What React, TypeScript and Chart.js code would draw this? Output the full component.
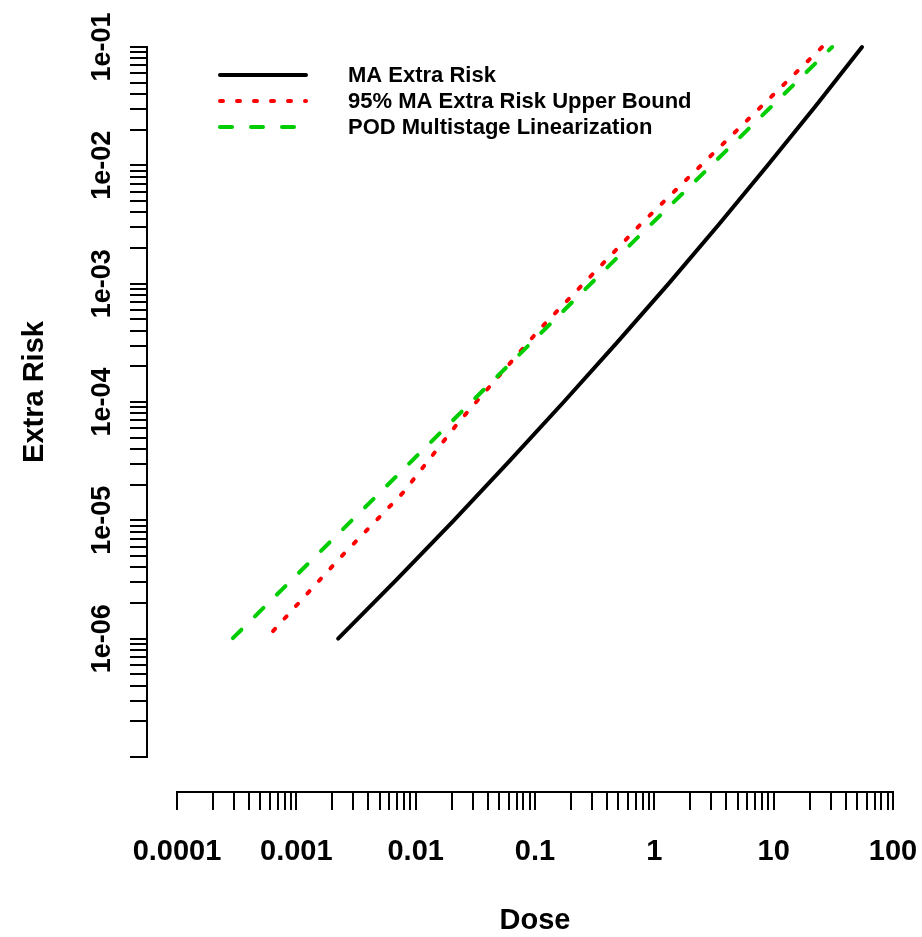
import React, { useEffect, useRef } from "react";
import { Chart, registerables } from "chart.js";

Chart.register(...registerables);

// ---- Data ----
const maDose = [0.00224, 0.00692, 0.0209, 0.061, 0.174, 0.484, 1.318, 3.47, 8.91, 22.4, 55];
const maRisk = [1e-6, 3.16e-6, 1e-5, 3.16e-5, 1e-4, 3.16e-4, 1e-3, 3.16e-3, 1e-2, 3.16e-2, 0.1];

const ubDose = [6.38e-4, 2.32e-3, 7.83e-3, 0.0226, 0.108, 0.791, 3.92, 25.5];
const ubRisk = [1.16e-6, 4.81e-6, 1.71e-5, 6.65e-5, 4.06e-4, 3.27e-3, 0.0158, 0.1];

const podDose = [2.94e-4, 0.017, 0.627, 30.9];
const podRisk = [1.01e-6, 5.81e-5, 2.13e-3, 0.1];

const seriesLabels = [
  "MA Extra Risk",
  "95% MA Extra Risk Upper Bound",
  "POD Multistage Linearization",
];

// ---- Axis ticks ----
const xDecades = [1e-4, 1e-3, 1e-2, 1e-1, 1, 10, 100];
const xTickLabels = ["0.0001", "0.001", "0.01", "0.1", "1", "10", "100"];
const yDecades = [1e-7, 1e-6, 1e-5, 1e-4, 1e-3, 1e-2, 1e-1];
const yTickLabels = ["", "1e-06", "1e-05", "1e-04", "1e-03", "1e-02", "1e-01"];
const minorMultipliers = [2, 3, 4, 5, 6, 7, 8, 9];

const xTitle = "Dose";
const yTitle = "Extra Risk";

const FONT = '"Liberation Sans", Arial, Helvetica, sans-serif';

const rAxesPlugin = {
  id: "rAxes",
  afterDraw(chart: any) {
    const ctx = chart.ctx as CanvasRenderingContext2D;
    const xs = chart.scales.x;
    const ys = chart.scales.y;
    const area = chart.chartArea;
    ctx.save();
    ctx.strokeStyle = "#000";
    ctx.fillStyle = "#000";
    ctx.lineWidth = 2;
    ctx.lineCap = "butt";

    // ---- Y axis (detached, R style) ----
    const yAxisX = area.left - 30;
    const yTickLen = 17;
    const yTop = ys.getPixelForValue(yDecades[yDecades.length - 1]);
    const yBot = ys.getPixelForValue(yDecades[0]);
    ctx.beginPath();
    ctx.moveTo(yAxisX, yTop);
    ctx.lineTo(yAxisX, yBot);
    ctx.stroke();
    const yTicks: number[] = [];
    yDecades.forEach((d, i) => {
      yTicks.push(d);
      if (i < yDecades.length - 1) minorMultipliers.forEach((m) => yTicks.push(d * m));
    });
    ctx.beginPath();
    yTicks.forEach((v) => {
      const p = Math.round(ys.getPixelForValue(v));
      ctx.moveTo(yAxisX + 1, p);
      ctx.lineTo(yAxisX - yTickLen, p);
    });
    ctx.stroke();
    ctx.font = `bold 27px ${FONT}`;
    ctx.textAlign = "center";
    ctx.textBaseline = "alphabetic";
    yDecades.forEach((d, i) => {
      const lab = yTickLabels[i];
      if (!lab) return;
      const p = ys.getPixelForValue(d);
      ctx.save();
      ctx.translate(110, p);
      ctx.rotate(-Math.PI / 2);
      ctx.fillText(lab, 0, 0);
      ctx.restore();
    });

    // ---- X axis (detached) ----
    const xAxisY = area.bottom + 35;
    const xTickLen = 18;
    const xL = xs.getPixelForValue(xDecades[0]);
    const xR = xs.getPixelForValue(xDecades[xDecades.length - 1]);
    ctx.beginPath();
    ctx.moveTo(xL, xAxisY);
    ctx.lineTo(xR, xAxisY);
    ctx.stroke();
    const xTicks: number[] = [];
    xDecades.forEach((d, i) => {
      xTicks.push(d);
      if (i < xDecades.length - 1) minorMultipliers.forEach((m) => xTicks.push(d * m));
    });
    ctx.beginPath();
    xTicks.forEach((v) => {
      const p = Math.round(xs.getPixelForValue(v));
      ctx.moveTo(p, xAxisY - 1);
      ctx.lineTo(p, xAxisY + xTickLen);
    });
    ctx.stroke();
    ctx.font = `bold 29px ${FONT}`;
    ctx.textAlign = "center";
    ctx.textBaseline = "alphabetic";
    xDecades.forEach((d, i) => {
      ctx.fillText(xTickLabels[i], xs.getPixelForValue(d), 860);
    });

    // ---- Axis titles ----
    ctx.font = `bold 29px ${FONT}`;
    ctx.fillText(xTitle, (xL + xR) / 2, 929);
    ctx.save();
    ctx.translate(43, (yTop + yBot) / 2 - 10);
    ctx.rotate(-Math.PI / 2);
    ctx.fillText(yTitle, 0, 0);
    ctx.restore();

    // ---- Legend ----
    ctx.font = `bold 22px ${FONT}`;
    ctx.textAlign = "left";
    ctx.textBaseline = "middle";
    chart.data.datasets.forEach((ds: any, i: number) => {
      const y = 75 + 26 * i;
      ctx.save();
      ctx.strokeStyle = ds.borderColor;
      ctx.lineWidth = ds.borderWidth;
      ctx.lineCap = ds.borderCapStyle || "butt";
      ctx.setLineDash(ds.borderDash || []);
      ctx.beginPath();
      ctx.moveTo(220, y);
      ctx.lineTo(306, y);
      ctx.stroke();
      ctx.restore();
      ctx.fillStyle = "#000";
      ctx.fillText(ds.label, 348, y + 1);
    });
    ctx.restore();
  },
};

export default function App() {
  const ref = useRef<HTMLCanvasElement | null>(null);
  useEffect(() => {
    if (!ref.current) return;
    const toPts = (xs: number[], ys: number[]) => xs.map((x, i) => ({ x, y: ys[i] }));
    const chart = new Chart(ref.current, {
      type: "line",
      data: {
        datasets: [
          {
            label: seriesLabels[0],
            data: toPts(maDose, maRisk),
            borderColor: "#000000",
            borderWidth: 4,
            borderCapStyle: "round",
            borderJoinStyle: "round",
            pointRadius: 0,
            tension: 0,
            clip: false,
            order: 3,
          },
          {
            label: seriesLabels[1],
            data: toPts(ubDose, ubRisk),
            borderColor: "#ff0000",
            borderWidth: 4,
            borderDash: [3, 14],
            borderCapStyle: "round",
            pointRadius: 0,
            tension: 0,
            clip: false,
            order: 2,
          },
          {
            label: seriesLabels[2],
            data: toPts(podDose, podRisk),
            borderColor: "#00cd00",
            borderWidth: 4,
            borderDash: [12, 19],
            borderCapStyle: "round",
            pointRadius: 0,
            tension: 0,
            clip: false,
            order: 1,
          },
        ] as any,
      },
      options: {
        animation: false,
        responsive: false,
        maintainAspectRatio: false,
        devicePixelRatio: 1,
        layout: { padding: { left: 177, right: 29, top: 47, bottom: 180 } },
        plugins: { legend: { display: false }, tooltip: { enabled: false } },
        events: [],
        scales: {
          x: { type: "logarithmic", min: 1e-4, max: 100, display: false },
          y: { type: "logarithmic", min: 1e-7, max: 1e-1, display: false },
        },
      } as any,
      plugins: [rAxesPlugin],
    });
    return () => chart.destroy();
  }, []);
  return (
    <div style={{ position: "absolute", left: 0, top: 0, width: 922, height: 937, background: "#fff" }}>
      <canvas ref={ref} width={922} height={937} style={{ display: "block" }} />
    </div>
  );
}
